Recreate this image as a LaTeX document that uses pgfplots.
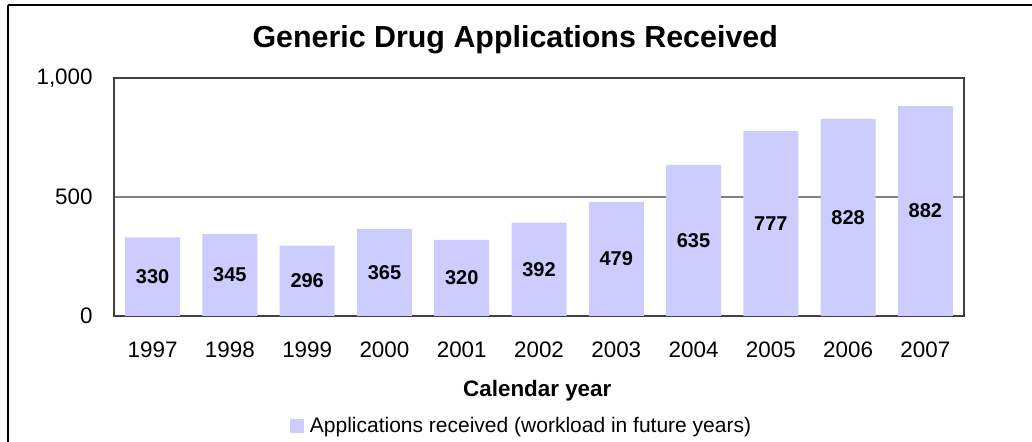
\documentclass[border=0pt]{standalone}
\usepackage{fontspec}
\setmainfont{Liberation Sans}
\usepackage{pgfplots}
\pgfplotsset{compat=1.18}
\definecolor{barfill}{RGB}{204,204,255}
\begin{document}
\begin{tikzpicture}
\useasboundingbox (0,0) rectangle (516pt,221pt);
\draw[black, line width=0.6pt] (4pt,218.5pt) -- (600pt,218.5pt);
\draw[black, line width=0.6pt] (4pt,218.5pt) -- (4pt,-20pt);
\begin{axis}[
  at={(57pt,63pt)}, anchor=south west,
  width=425pt, height=119pt, scale only axis,
  xmin=-0.5, xmax=10.5, ymin=0, ymax=1000,
  xtick=data,
  xticklabels={1997,1998,1999,2000,2001,2002,2003,2004,2005,2006,2007},
  ytick={0,500,1000},
  /pgf/number format/.cd, 1000 sep={,}, assume math mode=true, /pgfplots/.cd,
  major tick length=0pt,
  axis line style={draw=black!75, line width=0.6pt},
  ymajorgrids, major grid style={black!50, line width=0.6pt},
  tick label style={font=\fontsize{11.2}{13}\selectfont},
  xticklabel style={anchor=center, yshift=-17pt, inner sep=0pt},
  yticklabel style={anchor=east, xshift=-10.5pt, inner sep=0pt},
  every axis title shift=0pt,
  title={Generic Drug Applications Received},
  title style={at={(axis description cs:0.472,1.160)}, anchor=center, font=\bfseries\fontsize{15.2}{18}\selectfont},
  xlabel={Calendar year},
  xlabel style={at={(axis description cs:0.498,-0.315)}, anchor=center, font=\bfseries\fontsize{11.2}{13}\selectfont},
  legend style={at={(axis description cs:0.207,-0.462)}, anchor=west, draw=none, fill=none, inner sep=0pt, outer sep=0pt,
    font=\fontsize{10.5}{12}\selectfont, nodes={inner sep=1.5pt}},
  legend image code/.code={\fill[barfill] (0pt,-3.5pt) rectangle (7pt,3.5pt);},
]
\addplot[ybar, bar width=27.5pt, fill=barfill, draw=none,
  nodes near coords,
  visualization depends on=rawy \as \rawy,
  every node near coord/.append style={anchor=center, font=\bfseries\fontsize{10}{12}\selectfont, shift={(axis direction cs:0,-\rawy/2)}},
] coordinates {
  (0,330) (1,345) (2,296) (3,365) (4,320) (5,392) (6,479) (7,635) (8,777) (9,828) (10,882)
};
\addlegendentry{\hspace{1.5pt}Applications received (workload in future years)}
\end{axis}
\end{tikzpicture}
\end{document}
